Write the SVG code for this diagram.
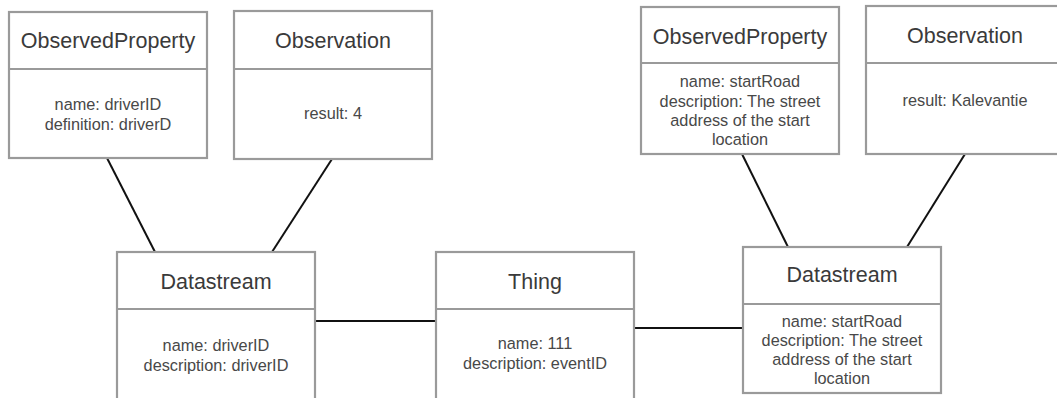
<svg xmlns="http://www.w3.org/2000/svg" width="1057" height="398" viewBox="0 0 1057 398">
<style>
.box{fill:#fff;stroke:#9a9a9a;stroke-width:2.2}
.div{stroke:#9a9a9a;stroke-width:2.2}
.t{font-family:"Liberation Sans",Arial,sans-serif;font-size:21.5px;fill:#3a3a3a;text-anchor:middle}
.b{font-family:"Liberation Sans",Arial,sans-serif;font-size:16.3px;fill:#484848;text-anchor:middle}
.c{stroke:#111;stroke-width:2;fill:none}
</style>
<rect width="1057" height="398" fill="#fff"/>
<g id="connectors">
<line class="c" x1="107" y1="158" x2="155" y2="252"/>
<line class="c" x1="332" y1="159" x2="272" y2="252"/>
<line class="c" x1="315" y1="321" x2="436" y2="321"/>
<line class="c" x1="634" y1="328" x2="743" y2="328"/>
<line class="c" x1="742" y1="154" x2="788" y2="247"/>
<line class="c" x1="965" y1="154" x2="907" y2="247"/>
</g>
<g id="op1">
<rect class="box" x="9" y="12" width="198" height="146"/>
<line class="div" x1="9" y1="69" x2="207" y2="69"/>
<text class="t" x="108" y="48">ObservedProperty</text>
<text class="b" x="108" y="110">name: driverID</text>
<text class="b" x="108" y="130">definition: driverD</text>
</g>
<g id="obs1">
<rect class="box" x="234" y="11" width="198" height="148"/>
<line class="div" x1="234" y1="69" x2="432" y2="69"/>
<text class="t" x="333" y="48">Observation</text>
<text class="b" x="333" y="119">result: 4</text>
</g>
<g id="ds1">
<rect class="box" x="117" y="252" width="198" height="160"/>
<line class="div" x1="117" y1="309" x2="315" y2="309"/>
<text class="t" x="216" y="289">Datastream</text>
<text class="b" x="216" y="351">name: driverID</text>
<text class="b" x="216" y="371">description: driverID</text>
</g>
<g id="thing">
<rect class="box" x="436" y="252" width="198" height="160"/>
<line class="div" x1="436" y1="309" x2="634" y2="309"/>
<text class="t" x="535" y="289">Thing</text>
<text class="b" x="535" y="349">name: 111</text>
<text class="b" x="535" y="369">description: eventID</text>
</g>
<g id="op2">
<rect class="box" x="641" y="7" width="198" height="147"/>
<line class="div" x1="641" y1="63" x2="839" y2="63"/>
<text class="t" x="740" y="44">ObservedProperty</text>
<text class="b" x="740" y="87">name: startRoad</text>
<text class="b" x="740" y="107">description: The street</text>
<text class="b" x="740" y="126">address of the start</text>
<text class="b" x="740" y="145">location</text>
</g>
<g id="obs2">
<rect class="box" x="866" y="6" width="198" height="148"/>
<line class="div" x1="866" y1="63" x2="1064" y2="63"/>
<text class="t" x="965" y="43">Observation</text>
<text class="b" x="965" y="106">result: Kalevantie</text>
</g>
<g id="ds2">
<rect class="box" x="743" y="247" width="198" height="146"/>
<line class="div" x1="743" y1="304" x2="941" y2="304"/>
<text class="t" x="842" y="282">Datastream</text>
<text class="b" x="842" y="327">name: startRoad</text>
<text class="b" x="842" y="346">description: The street</text>
<text class="b" x="842" y="365">address of the start</text>
<text class="b" x="842" y="384">location</text>
</g>
</svg>
